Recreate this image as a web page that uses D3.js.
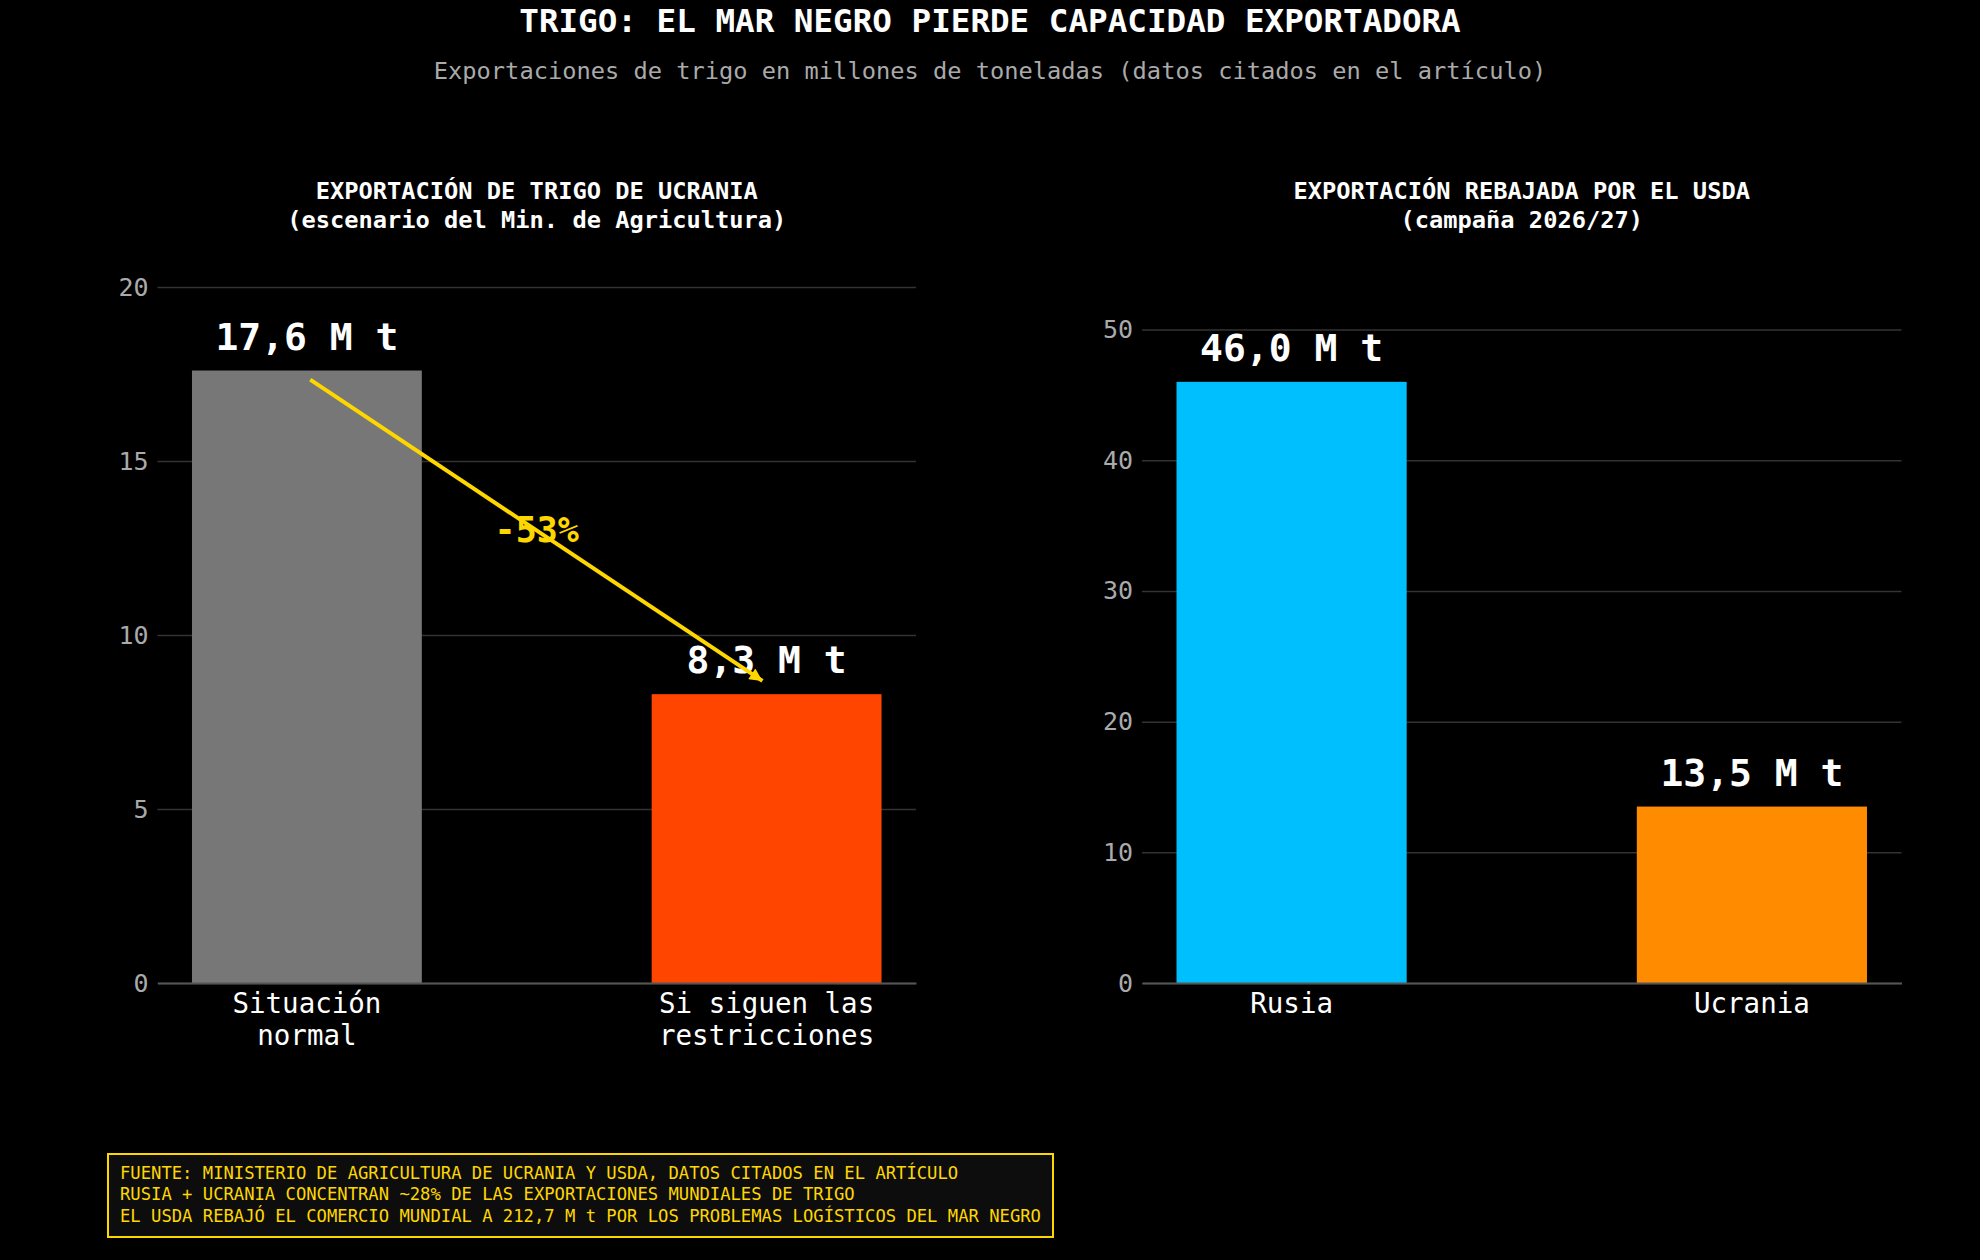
<!DOCTYPE html>
<html>
<head>
<meta charset="utf-8">
<script src="https://cdn.jsdelivr.net/npm/d3@7"></script>
<style>
  html, body { margin: 0; padding: 0; background: #000; }
  svg { display: block; font-family: 'DejaVu Sans Mono', monospace; }
</style>
</head>
<body>
<div id="chart"></div>
<script>
// data
const leftCategories = [['Situación', 'normal'], ['Si siguen las', 'restricciones']]
const leftValues = [17.6, 8.3]
const leftTicks = [0, 5, 10, 15, 20]
const rightCategories = [['Rusia'], ['Ucrania']]
const rightValues = [46.0, 13.5]
const rightTicks = [0, 10, 20, 30, 40, 50]
const leftTitle = ['EXPORTACIÓN DE TRIGO DE UCRANIA', '(escenario del Min. de Agricultura)']
const rightTitle = ['EXPORTACIÓN REBAJADA POR EL USDA', '(campaña 2026/27)']
const footnotes = [
  'FUENTE: MINISTERIO DE AGRICULTURA DE UCRANIA Y USDA, DATOS CITADOS EN EL ARTÍCULO',
  'RUSIA + UCRANIA CONCENTRAN ~28% DE LAS EXPORTACIONES MUNDIALES DE TRIGO',
  'EL USDA REBAJÓ EL COMERCIO MUNDIAL A 212,7 M t POR LOS PROBLEMAS LOGÍSTICOS DEL MAR NEGRO'
]

const leftColors = ['#777777', '#FF4500']
const rightColors = ['#00BFFF', '#FF8C00']
const gold = '#FFD700'

const width = 1980
const height = 1260
const plotTop = 279
const plotBottom = 983

const svg = d3.select('#chart')
  .append('svg')
  .attr('width', width)
  .attr('height', height)

svg.append('rect')
  .attr('width', width)
  .attr('height', height)
  .attr('fill', '#000')

// titles
svg.append('text')
  .attr('x', width / 2)
  .attr('y', 32)
  .attr('text-anchor', 'middle')
  .attr('fill', '#fff')
  .attr('font-size', 32.6)
  .attr('font-weight', 'bold')
  .text('TRIGO: EL MAR NEGRO PIERDE CAPACIDAD EXPORTADORA')

svg.append('text')
  .attr('x', width / 2)
  .attr('y', 79)
  .attr('text-anchor', 'middle')
  .attr('fill', '#aaaaaa')
  .attr('font-size', 23.7)
  .text('Exportaciones de trigo en millones de toneladas (datos citados en el artículo)')

const fmt = v => d3.format('.1f')(v).replace('.', ',') + ' M t'

function drawPanel (x0, x1, yMax, categories, values, colors, ticks, title) {
  const g = svg.append('g')

  const x = d3.scaleBand()
    .domain(d3.range(values.length))
    .range([x0, x1])
    .paddingInner(0.5)
    .paddingOuter(0.075)

  const y = d3.scaleLinear()
    .domain([0, yMax])
    .range([plotBottom, plotTop])

  // gridlines
  g.append('g')
    .attr('transform', `translate(${x0}, 0)`)
    .call(d3.axisLeft(y).tickValues(ticks).tickSize(-(x1 - x0)).tickFormat(''))
    .call(s => s.select('.domain').remove())
    .selectAll('line')
    .attr('stroke', '#333')
    .attr('stroke-width', 1.5)

  // y tick labels
  g.append('g')
    .attr('transform', `translate(${x0}, 0)`)
    .call(d3.axisLeft(y).tickValues(ticks).tickSize(0).tickPadding(9))
    .call(s => s.select('.domain').remove())
    .selectAll('text')
    .attr('fill', '#aaaaaa')
    .attr('font-size', 25)
    .attr('font-family', 'DejaVu Sans Mono')

  // bars
  g.append('g')
    .selectAll('rect')
    .data(values)
    .enter()
    .append('rect')
    .attr('x', (d, i) => x(i))
    .attr('width', x.bandwidth())
    .attr('y', d => y(d))
    .attr('height', d => y(0) - y(d))
    .attr('fill', (d, i) => colors[i])

  // bottom axis
  const xAxis = g.append('g')
    .attr('transform', `translate(0, ${y(0)})`)
    .call(d3.axisBottom(x).tickSize(0).tickPadding(10).tickFormat(''))
  xAxis.select('.domain')
    .attr('stroke', '#555')
    .attr('stroke-width', 2)
  xAxis.selectAll('.tick text')
    .attr('fill', '#fff')
    .attr('font-size', 27.5)
    .attr('font-family', 'DejaVu Sans Mono')
    .attr('dy', null)
    .each(function (d) {
      const t = d3.select(this)
      categories[d].forEach((line, k) => {
        t.append('tspan')
          .attr('x', 0)
          .attr('dy', k === 0 ? '0.71em' : '1.17em')
          .text(line)
      })
    })

  // value labels
  g.append('g')
    .selectAll('text')
    .data(values)
    .enter()
    .append('text')
    .attr('x', (d, i) => x(i) + x.bandwidth() / 2)
    .attr('y', d => y(d) - 21)
    .attr('text-anchor', 'middle')
    .attr('fill', '#fff')
    .attr('font-size', 38)
    .attr('font-weight', 'bold')
    .text(fmt)

  // panel title
  const tt = g.append('text')
    .attr('x', (x0 + x1) / 2)
    .attr('y', 199)
    .attr('text-anchor', 'middle')
    .attr('fill', '#fff')
    .attr('font-size', 23.7)
    .attr('font-weight', 'bold')
  title.forEach((line, k) => {
    tt.append('tspan')
      .attr('x', (x0 + x1) / 2)
      .attr('dy', k === 0 ? 0 : 29)
      .text(line)
  })

  return { g, x, y }
}

const left = drawPanel(157.5, 916, 20.23, leftCategories, leftValues, leftColors, leftTicks, leftTitle)
drawPanel(1142, 1901.5, 53.87, rightCategories, rightValues, rightColors, rightTicks, rightTitle)

// change annotation on the left panel
const change = Math.round((leftValues[1] - leftValues[0]) / leftValues[0] * 100)
const cx = i => left.x(i) + left.x.bandwidth() / 2

left.g.append('text')
  .attr('x', (cx(0) + cx(1)) / 2)
  .attr('y', left.y(13))
  .attr('dy', '0.32em')
  .attr('text-anchor', 'middle')
  .attr('fill', gold)
  .attr('font-size', 35)
  .attr('font-weight', 'bold')
  .text(`${change}%`)

svg.append('defs')
  .append('marker')
  .attr('id', 'head')
  .attr('viewBox', '0 0 10 10')
  .attr('refX', 10)
  .attr('refY', 5)
  .attr('markerWidth', 4)
  .attr('markerHeight', 3.2)
  .attr('markerUnits', 'strokeWidth')
  .attr('orient', 'auto')
  .append('path')
  .attr('d', 'M0,0 L10,5 L0,10 z')
  .attr('fill', gold)

let ax0 = cx(0)
let ay0 = left.y(leftValues[0] - 0.2)
let ax1 = cx(1)
let ay1 = left.y(leftValues[1] + 0.3)
const len = Math.hypot(ax1 - ax0, ay1 - ay0)
const ux = (ax1 - ax0) / len
const uy = (ay1 - ay0) / len
ax0 += ux * 4
ay0 += uy * 4
ax1 -= ux * 5
ay1 -= uy * 5

left.g.append('line')
  .attr('x1', ax0)
  .attr('y1', ay0)
  .attr('x2', ax1)
  .attr('y2', ay1)
  .attr('stroke', gold)
  .attr('stroke-width', 4)
  .attr('marker-end', 'url(#head)')

// footer box
const foot = svg.append('g')
foot.append('rect')
  .attr('x', 108)
  .attr('y', 1154)
  .attr('width', 945)
  .attr('height', 83)
  .attr('fill', '#0d0d0d')
  .attr('stroke', gold)
  .attr('stroke-width', 2)

foot.selectAll('text')
  .data(footnotes)
  .enter()
  .append('text')
  .attr('x', 120)
  .attr('y', (d, i) => 1179 + i * 21.4)
  .attr('fill', gold)
  .attr('font-size', 17.2)
  .text(d => d)
</script>
</body>
</html>
